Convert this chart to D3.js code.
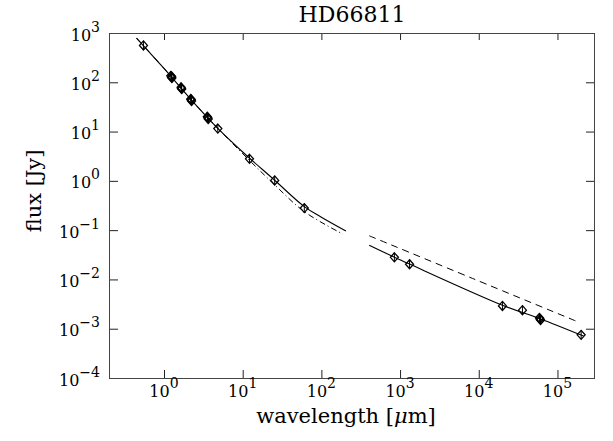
<!DOCTYPE html>
<html><head><meta charset="utf-8">
<script src="https://cdn.jsdelivr.net/npm/d3@7"></script>
<style>
body{margin:0;background:#fff;}
svg{display:block;}
text{font-family:"DejaVu Serif","Liberation Serif",serif;fill:#000;}
</style></head>
<body><svg id="c" width="613" height="441"></svg>
<script>
// ---- data ----
const title = "HD66811";
const xLabelPre = "wavelength [";
const xLabelMu = "\u03BC";
const xLabelPost = "m]";
const yLabel = "flux [Jy]";
const xTickExps = [0, 1, 2, 3, 4, 5];
const yTickExps = [3, 2, 1, 0, -1, -2, -3, -4];

// observed photometry (wavelength µm, flux Jy); repeated measurements overlap
const obsWave = [0.548, 1.24, 1.22, 1.26, 1.25, 1.66, 1.65, 1.68, 2.22, 2.19, 2.24, 2.21, 3.6, 3.55, 3.65, 4.83, 12.2, 25.5, 60.7, 847, 1320, 20000, 35900, 60000, 59000, 61000, 200000];
const obsFlux = [560, 128, 135, 122, 131, 76, 79, 73, 43.5, 46, 41.5, 44.5, 19, 20, 18, 11.5, 2.8, 1.02, 0.28, 0.0281, 0.0203, 0.0029, 0.00238, 0.00158, 0.00166, 0.0015, 0.00075];

// model: solid (short wavelengths)
const solidAWave = [0.447, 1.0, 2.22, 4.83, 10, 25.3, 60.7, 100, 205];
const solidAFlux = [791, 191, 44, 11.6, 3.85, 1.04, 0.30, 0.183, 0.096];
// model: dash-dot (short wavelengths)
const dashDotWave = [0.447, 1.0, 2.22, 4.83, 12.2, 25.3, 60.7, 188];
const dashDotFlux = [791, 191, 44, 11.6, 2.6, 0.84, 0.237, 0.083];
// model: dashed (long wavelengths)
const dashedWave = [405, 8370, 174000];
const dashedFlux = [0.0769, 0.01045, 0.00142];
// model: solid (long wavelengths)
const solidBWave = [405, 847, 1320, 20000, 60000, 215000];
const solidBFlux = [0.0495, 0.0283, 0.0205, 0.0030, 0.00160, 0.00071];

// ---- chart ----
const svg = d3.select("#c");
const L = 109, R = 595, T = 33, B = 378;
const x = d3.scaleLog().domain([0.2, 3e5]).range([L, R]);
const y = d3.scaleLog().domain([1e-4, 1e3]).range([B, T]);
const ink = "#222";

const xTicks = xTickExps.map(e => Math.pow(10, e));
const yTicks = yTickExps.map(e => Math.pow(10, e));

function styleAxis(g) {
  g.select(".domain").remove();
  g.selectAll(".tick line").attr("stroke", ink);
  g.selectAll(".tick text").remove();
}
svg.append("g").attr("transform", `translate(0,${B})`)
  .call(d3.axisBottom(x).tickValues(xTicks).tickSizeInner(-8).tickSizeOuter(0).tickFormat(""))
  .call(styleAxis);
svg.append("g").attr("transform", `translate(0,${T})`)
  .call(d3.axisTop(x).tickValues(xTicks).tickSizeInner(-7).tickSizeOuter(0).tickFormat(""))
  .call(styleAxis);
svg.append("g").attr("transform", `translate(${L},0)`)
  .call(d3.axisLeft(y).tickValues(yTicks).tickSizeInner(-9).tickSizeOuter(0).tickFormat(""))
  .call(styleAxis);
svg.append("g").attr("transform", `translate(${R},0)`)
  .call(d3.axisRight(y).tickValues(yTicks).tickSizeInner(-9).tickSizeOuter(0).tickFormat(""))
  .call(styleAxis);

// frame
svg.append("rect").attr("x", L + 0.5).attr("y", T + 0.5)
  .attr("width", R - L - 1).attr("height", B - T).attr("fill", "none")
  .attr("stroke", "#444").attr("stroke-width", 1);

function expStr(e) { return e < 0 ? "\u2212" + (-e) : String(e); }

// x tick labels
xTickExps.forEach(e => {
  const t = svg.append("text").attr("x", x(Math.pow(10, e))).attr("y", B + 19)
    .attr("text-anchor", "middle").attr("font-size", 16);
  t.append("tspan").text("10");
  t.append("tspan").attr("dy", -9).attr("font-size", 14).text(expStr(e));
});
// y tick labels
yTickExps.forEach(e => {
  const t = svg.append("text").attr("x", 100).attr("y", y(Math.pow(10, e)) + 7.5)
    .attr("text-anchor", "end").attr("font-size", 16);
  t.append("tspan").text("10");
  t.append("tspan").attr("dy", -9).attr("font-size", 14).text(expStr(e));
});

// titles
svg.append("text").attr("x", (L + R) / 2).attr("y", 22).attr("text-anchor", "middle")
  .attr("font-size", 22).text(title);
const xl = svg.append("text").attr("x", 346).attr("y", 423).attr("text-anchor", "middle")
  .attr("font-size", 21);
xl.append("tspan").text(xLabelPre);
xl.append("tspan").attr("font-style", "italic").text(xLabelMu);
xl.append("tspan").text(xLabelPost);
svg.append("text").attr("transform", "translate(41,191) rotate(-90)").attr("text-anchor", "middle")
  .attr("font-size", 21).text(yLabel);

// model curves
const line = d3.line().x(d => x(d[0])).y(d => y(d[1])).curve(d3.curveCatmullRom.alpha(0.5));
const zip = (a, b) => a.map((v, i) => [v, b[i]]);
svg.append("path").attr("d", line(zip(dashDotWave, dashDotFlux)))
  .attr("fill", "none").attr("stroke", "#000").attr("stroke-width", 1)
  .attr("stroke-dasharray", "6,3,1,3");
svg.append("path").attr("d", line(zip(solidAWave, solidAFlux)))
  .attr("fill", "none").attr("stroke", "#000").attr("stroke-width", 1.1);
svg.append("path").attr("d", line(zip(dashedWave, dashedFlux)))
  .attr("fill", "none").attr("stroke", "#000").attr("stroke-width", 1)
  .attr("stroke-dasharray", "7,5");
svg.append("path").attr("d", line(zip(solidBWave, solidBFlux)))
  .attr("fill", "none").attr("stroke", "#000").attr("stroke-width", 1.1);

// observed points: diamond with vertical bar
const pts = svg.append("g");
zip(obsWave, obsFlux).forEach(d => {
  const g = pts.append("g").attr("transform", `translate(${x(d[0])},${y(d[1])})`);
  g.append("path").attr("d", "M0,-4.5L4,0L0,4.5L-4,0Z")
    .attr("fill", "none").attr("stroke", "#000").attr("stroke-width", 1.3);
  g.append("line").attr("x1", 0).attr("x2", 0).attr("y1", -4.5).attr("y2", 4.5)
    .attr("stroke", "#000").attr("stroke-width", 1);
});
</script></body></html>
